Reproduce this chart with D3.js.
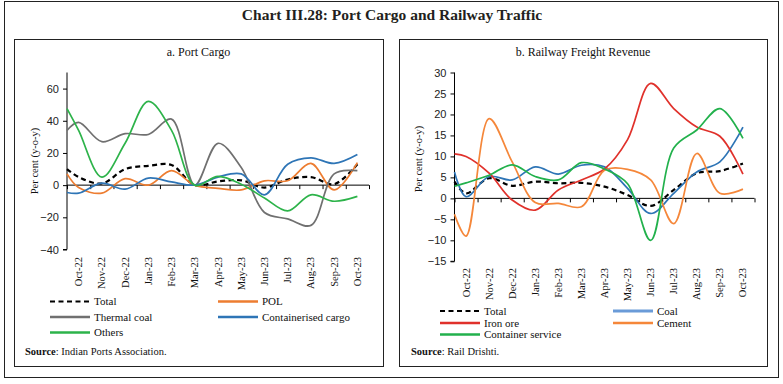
<!DOCTYPE html>
<html><head><meta charset="utf-8">
<script src="https://cdn.jsdelivr.net/npm/d3@7"></script>
<style>
html,body{margin:0;padding:0;background:#fff;}
svg{display:block;}
</style></head>
<body>
<svg id="c" width="783" height="384"></svg>
<script>
// ---------- DATA ----------
const months = ["Oct-22","Nov-22","Dec-22","Jan-23","Feb-23","Mar-23","Apr-23","May-23","Jun-23","Jul-23","Aug-23","Sep-23","Oct-23"];
// first value of each series = level at the left axis edge (carry-in from Sep-22), then Oct-22 ... Oct-23
const portTotal       = [10, 5, 1, 10, 12, 12.5, 0, 2.3, 3, -1.5, 3.5, 5, 0.6, 13];
const portPOL         = [7, -1.5, -5, 4, 0, 9, 0, -2, -3, 2.7, 2.7, 13.5, -3, 14];
const portThermalCoal = [34, 39, 27, 32, 31.5, 41, 0, 26, 11, -17, -21, -25, 7, 9];
const portContainer   = [-4.6, -5, 1.2, -2.5, 4.4, 2, 0, 5, 7, -6, 13, 17, 13.5, 19];
const portOthers      = [47.5, 34, 5, 26, 52, 34, 0, 5.5, 0.6, -8, -16, -6, -10, -7];

const railTotal     = [4, 1.2, 4.8, 3, 4, 3.6, 3.7, 2.8, 0.8, -1.8, 2, 6, 6.5, 8.3];
const railCoal      = [6.3, 0.4, 5.2, 4.4, 7.5, 5.8, 7.9, 7.5, 2.4, -3.6, 1.2, 6.3, 8.7, 17];
const railIronOre   = [10.6, 10, 6, -0.4, -2.8, 2, 4.4, 7, 14, 27.4, 21.4, 17, 14.8, 5.8];
const railCement    = [-3.8, -9, 19, 8.7, -1, -1.2, -2, 6.7, 6.9, 4.4, -6, 10.7, 1.2, 2.2];
const railContainer = [2.9, 3.7, 5.5, 8, 5.2, 4.4, 8.5, 7, 3.5, -10, 12, 16.3, 21.4, 14.3];

const portTicks = [-40, -20, 0, 20, 40, 60];
const railTicks = [-15, -10, -5, 0, 5, 10, 15, 20, 25, 30];

// ---------- DRAW ----------
const svg = d3.select("#c");
const serif = "'Liberation Serif', 'Times New Roman', serif";
const sans = "'Liberation Sans', Arial, sans-serif";

svg.append("rect").attr("x",4.5).attr("y",1.5).attr("width",774).attr("height",376)
  .attr("fill","none").attr("stroke","#222").attr("stroke-width",1);

svg.append("text").attr("x",392).attr("y",20).attr("text-anchor","middle")
  .attr("font-family",serif).attr("font-weight","bold").attr("font-size",15.5)
  .attr("fill","#231f20").text("Chart III.28: Port Cargo and Railway Traffic");

function panel(cfg){
  const g = svg.append("g");
  g.append("rect").attr("x",cfg.bx+0.5).attr("y",39.5).attr("width",cfg.bw).attr("height",327)
    .attr("fill","none").attr("stroke","#222").attr("stroke-width",1);
  g.append("text").attr("x",cfg.bx+cfg.bw/2).attr("y",56).attr("text-anchor","middle")
    .attr("font-family",serif).attr("font-size",12).attr("fill","#111").text(cfg.title);

  const y = d3.scaleLinear().domain(cfg.ydom).range([cfg.ybot, 72.5]);
  const xBand = d3.scaleBand().domain(months).range([cfg.x0, cfg.x1]).padding(0);
  const xIdx = d3.scaleLinear().domain([0, months.length]).range([cfg.x0, cfg.x1]);

  // y axis
  const ya = g.append("g").attr("transform",`translate(${cfg.x0},0)`)
    .call(d3.axisLeft(y).tickValues(cfg.ticks).tickSize(4).tickPadding(4));
  ya.select(".domain").attr("stroke","#000").attr("d",`M-4,${y(cfg.ticks[0])}H0V${y(cfg.ydom[1])}`);
  ya.selectAll(".tick line").attr("stroke","#000");
  ya.selectAll(".tick text").attr("font-family",sans).attr("font-size",11).attr("fill","#222");

  // x axis at zero
  const xa = g.append("g").attr("transform",`translate(0,${y(0)})`)
    .call(d3.axisBottom(xIdx).tickValues(d3.range(0, months.length+1)).tickSize(4).tickFormat(""));
  xa.select(".domain").attr("stroke","#000").attr("d",`M${cfg.x0},0H${cfg.x1}`);
  xa.selectAll(".tick line").attr("stroke","#000");

  // x labels
  g.selectAll(".xl").data(months).enter().append("text")
    .attr("transform",d=>`translate(${xBand(d)+xBand.bandwidth()/2+3.5},${cfg.labY}) rotate(-90)`)
    .attr("text-anchor","end").attr("font-family",serif).attr("font-size",10.5).attr("fill","#111")
    .text(d=>d);

  // y title
  g.append("text").attr("transform",`translate(${cfg.ytx},${cfg.yty}) rotate(-90)`)
    .attr("text-anchor","middle").attr("font-family",serif).attr("font-size",10.5).attr("fill","#111")
    .text("Per cent (y-o-y)");

  // lines
  const xs = [0].concat(months.map((m,i)=>i+0.5));
  const line = d3.line().x((d,i)=>xIdx(xs[i])).y(d=>y(d)).curve(d3.curveCatmullRom.alpha(0.5));
  cfg.series.forEach(s=>{
    g.append("path").datum(s.values).attr("d",line).attr("fill","none")
      .attr("stroke",s.color).attr("stroke-width",s.dash?2.2:1.7)
      .attr("stroke-dasharray",s.dash?"5,3.5":null);
  });

  // legend
  cfg.series.forEach((s,i)=>{
    const lx = cfg.legX[i%2===0?0:1], ly = cfg.legY[Math.floor(i/2)];
    g.append("line").attr("x1",lx).attr("x2",lx+cfg.legLen).attr("y1",ly).attr("y2",ly)
      .attr("stroke",s.legColor||s.color).attr("stroke-width",s.legW||(s.dash?2.2:2.4))
      .attr("stroke-dasharray",s.dash?"5,3.5":null);
    g.append("text").attr("x",lx+cfg.legLen+4).attr("y",ly+3.8)
      .attr("font-family",serif).attr("font-size",11).attr("fill","#111").text(s.name);
  });

  const src = g.append("text").attr("x",cfg.srcX).attr("y",355).attr("font-family",serif)
    .attr("font-size",10.5).attr("fill","#111");
  src.append("tspan").attr("font-weight","bold").text("Source");
  src.append("tspan").text(": " + cfg.source);
}

panel({
  bx:14, bw:369, title:"a. Port Cargo", ydom:[-40,70], ybot:249.5, ticks:portTicks,
  x0:67, x1:369, labY:257, ytx:38, yty:161,
  series:[
    {name:"Total", values:portTotal, color:"#000", dash:true},
    {name:"POL", values:portPOL, color:"#ED7D31"},
    {name:"Thermal coal", values:portThermalCoal, color:"#707070"},
    {name:"Containerised cargo", values:portContainer, color:"#2E75B6"},
    {name:"Others", values:portOthers, color:"#2DB34A"}
  ],
  legX:[50,218], legY:[301.5,317,332.5], legLen:40, srcX:25, source:"Indian Ports Association."
});

panel({
  bx:399, bw:368, title:"b. Railway Freight Revenue", ydom:[-15,30], ybot:261.3, ticks:railTicks,
  x0:454.5, x1:754.5, labY:268, ytx:422, yty:159,
  series:[
    {name:"Total", values:railTotal, color:"#000", dash:true},
    {name:"Coal", values:railCoal, color:"#2E75B6", legColor:"#6A9BD8", legW:3.2},
    {name:"Iron ore", values:railIronOre, color:"#E0312B"},
    {name:"Cement", values:railCement, color:"#F5873A"},
    {name:"Container service", values:railContainer, color:"#22B14C"}
  ],
  legX:[440,613], legY:[311,323,334.5], legLen:40, srcX:411, source:"Rail Drishti."
});
</script>
</body></html>
